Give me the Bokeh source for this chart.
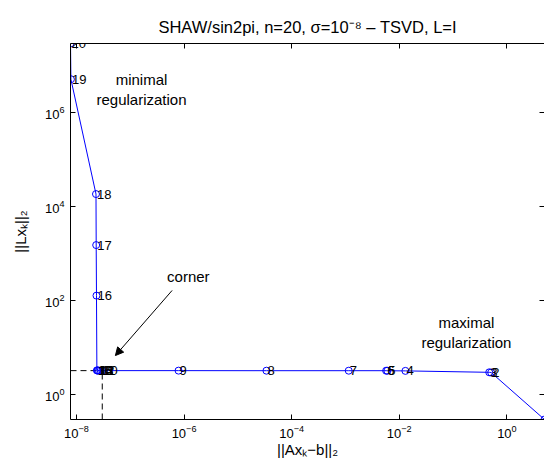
import numpy as np
from bokeh.plotting import figure
from bokeh.models import (Range1d, FixedTicker, LogAxis, Arrow, NormalHead,
                          ColumnDataSource, LabelSet, Label)
from bokeh.core.properties import value
from bokeh.embed import file_html
from bokeh.resources import INLINE

k = list(range(1, 21))
residual_norm = [5.0, 0.51, 0.47, 1.3e-2, 6.0e-3, 5.7e-3, 1.15e-3, 3.4e-5, 7.9e-7,
                 3.02e-8, 2.82e-8, 2.63e-8, 2.51e-8, 2.45e-8, 2.40e-8, 2.36e-8,
                 2.33e-8, 2.31e-8, 7.9e-9, 7.76e-9]
solution_norm = [0.30, 2.99, 3.02, 3.24, 3.26, 3.27, 3.27, 3.27, 3.28, 3.28,
                 3.28, 3.29, 3.29, 3.30, 3.32, 129.0, 1531.0, 1.86e4, 5.13e6, 2.95e7]
k_corner = 10
x_ticks = [1e-8, 1e-6, 1e-4, 1e-2, 1e0]
y_ticks = [1e0, 1e2, 1e4, 1e6]

title = "SHAW/sin2pi, n=20, \u03c3=10\u207b\u2078 \u2013 TSVD, L=I"
xlabel = "||Ax\u2096\u2212b||\u2082"
ylabel = "||Lx\u2096||\u2082"

FONT = "Liberation Sans"
BLUE = "#0000ff"

x_min, x_max = min(residual_norm), max(residual_norm)
y_min, y_max = min(solution_norm), max(solution_norm)

p = figure(width=544, height=460, x_axis_type="log", y_axis_type="log",
           x_range=Range1d(x_min, x_max), y_range=Range1d(y_min, y_max),
           output_backend="svg", toolbar_location=None,
           min_border_left=70, min_border_right=0, min_border_top=43, min_border_bottom=41)
p.background_fill_color = "white"
p.border_fill_color = "white"
p.grid.visible = False
p.outline_line_color = None

p.title.text = title
p.title.align = "center"
p.title.text_font = FONT
p.title.text_font_size = "16.5px"
p.title.text_font_style = "normal"
p.title.text_color = "black"
p.title.standoff = 15

for ax in (p.xaxis[0], p.yaxis[0]):
    ax.major_tick_in = 5
    ax.major_tick_out = 0
    ax.minor_tick_in = 0
    ax.minor_tick_out = 0
    ax.axis_line_color = "black"
    ax.major_tick_line_color = "black"
    ax.major_label_text_font = FONT
    ax.major_label_text_font_size = "13px"
    ax.major_label_text_color = "black"
    ax.axis_label_text_font = FONT
    ax.axis_label_text_font_size = "15px"
    ax.axis_label_text_font_style = "normal"
    ax.axis_label_text_color = "black"

p.xaxis[0].ticker = FixedTicker(ticks=x_ticks)
p.yaxis[0].ticker = FixedTicker(ticks=y_ticks)
p.xaxis[0].axis_label = xlabel
p.yaxis[0].axis_label = ylabel
p.xaxis[0].major_label_standoff = 5
p.xaxis[0].axis_label_standoff = 0
p.yaxis[0].major_label_standoff = 6
p.yaxis[0].axis_label_standoff = 13

# top and right axes: ticks only (labels hidden)
top = LogAxis(ticker=FixedTicker(ticks=x_ticks), major_tick_in=5, major_tick_out=0,
              minor_tick_in=0, minor_tick_out=0, major_label_text_font_size="1px",
              major_label_text_alpha=0, major_label_standoff=0, axis_line_color="black")
right = LogAxis(ticker=FixedTicker(ticks=y_ticks), major_tick_in=5, major_tick_out=0,
                minor_tick_in=0, minor_tick_out=0, major_label_text_font_size="1px",
                major_label_text_alpha=0, major_label_standoff=0, axis_line_color=None)
p.add_layout(top, "above")
p.add_layout(right, "right")

src = ColumnDataSource(dict(x=residual_norm, y=solution_norm, lab=[str(i) for i in k]))
src_lab = ColumnDataSource(dict(x=residual_norm[:-1], y=solution_norm[:-1],
                                lab=[str(i) for i in k[:-1]]))

# corner dashed lines
xc = residual_norm[k_corner - 1]
yc = solution_norm[k_corner - 1]
p.line([x_min, xc], [yc, yc], line_color="black", line_dash="6 4", line_width=1)
p.line([xc, xc], [y_min, yc], line_color="black", line_dash="6 4", line_width=1)

p.line("x", "y", source=src, line_color=BLUE, line_width=1)
p.scatter("x", "y", source=src, marker="circle", size=7, fill_color=None,
          line_color=BLUE, line_width=1)
p.add_layout(LabelSet(x="x", y="y", text="lab", source=src_lab, text_font=value(FONT),
                      text_font_size="13px", text_align="left", text_baseline="middle",
                      x_offset=1, text_color="black", level="overlay"))
# label of the last point (top-left corner, sits on the frame edge)
p.add_layout(Label(x=residual_norm[-1], y=solution_norm[-1], text=str(k[-1]),
                   text_font=FONT, text_font_size="13px", text_align="left",
                   text_baseline="middle", x_offset=1, text_color="black",
                   level="overlay"))

# annotations
p.text(x=[1.62e-7], y=[3.1e6], text=["minimal\nregularization"], text_font=value(FONT),
       text_font_size="15px", text_align="center", text_baseline="middle",
       text_line_height=1.2, text_color="black")
p.text(x=[0.177], y=[21.2], text=["maximal\nregularization"], text_font=value(FONT),
       text_font_size="15px", text_align="center", text_baseline="middle",
       text_line_height=1.15, text_color="black")
p.text(x=[1.2e-6], y=[329.0], text=["corner"], text_font=value(FONT),
       text_font_size="15px", text_align="center", text_baseline="middle",
       text_color="black")
p.add_layout(Arrow(end=NormalHead(size=8, fill_color="black", line_color="black"),
                   x_start=6.0e-7, y_start=166.0, x_end=5.3e-8, y_end=6.86,
                   line_color="black", line_width=1))

open("out.html", "w").write(file_html(p, INLINE))
